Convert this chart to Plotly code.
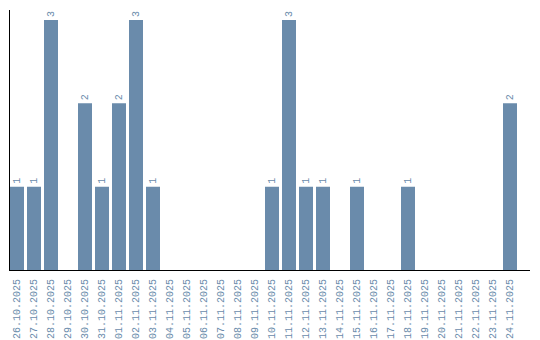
import plotly.graph_objects as go

dates = ["26.10.2025", "27.10.2025", "28.10.2025", "29.10.2025", "30.10.2025",
         "31.10.2025", "01.11.2025", "02.11.2025", "03.11.2025", "04.11.2025",
         "05.11.2025", "06.11.2025", "07.11.2025", "08.11.2025", "09.11.2025",
         "10.11.2025", "11.11.2025", "12.11.2025", "13.11.2025", "14.11.2025",
         "15.11.2025", "16.11.2025", "17.11.2025", "18.11.2025", "19.11.2025",
         "20.11.2025", "21.11.2025", "22.11.2025", "23.11.2025", "24.11.2025"]
counts = [1, 1, 3, 0, 2, 1, 2, 3, 1, 0, 0, 0, 0, 0, 0,
          1, 3, 1, 1, 0, 1, 0, 0, 1, 0, 0, 0, 0, 0, 2]

color = "#6a8bab"
font = "Liberation Mono"
labels = [str(v) if v > 0 else "" for v in counts]

fig = go.Figure(go.Bar(
    x=list(range(len(dates))), y=counts, marker_color=color, marker_line_width=0,
    text=labels, textposition="outside", textangle=-90, cliponaxis=False,
    textfont=dict(family=font, size=10, color=color),
))
gap = 3 / 17
fig.update_layout(
    width=540, height=340, margin=dict(l=10, r=10, t=10, b=70, autoexpand=False),
    paper_bgcolor="white", plot_bgcolor="white", bargap=gap, showlegend=False,
    xaxis=dict(tickmode="array", tickvals=list(range(len(dates))), ticktext=dates,
               tickangle=-90, range=[-(1 - gap) / 2, -(1 - gap) / 2 + 520 / 17],
               showline=True, linecolor="black", linewidth=1, showgrid=False,
               ticks="", zeroline=False, automargin=False, ticklabelstandoff=4,
               tickfont=dict(family=font, size=10, color=color)),
    yaxis=dict(range=[0, 3.12], showline=True, linecolor="black", linewidth=1,
               showgrid=False, showticklabels=False, ticks="", zeroline=False,
               automargin=False),
)
fig.write_html("out.html")
